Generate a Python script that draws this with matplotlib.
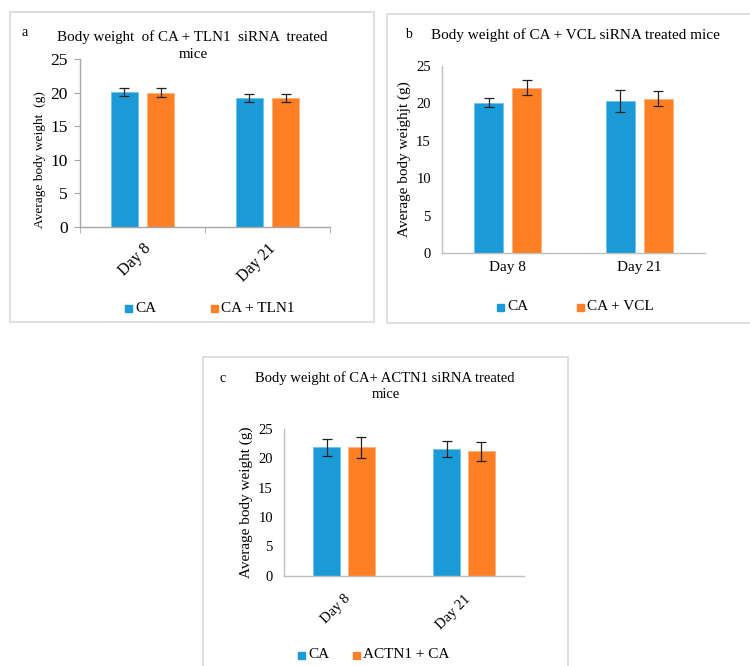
import matplotlib
matplotlib.use("Agg")
import matplotlib.pyplot as plt
from matplotlib.patches import Rectangle
import numpy as np

plt.rcParams['font.family'] = ['Liberation Serif', 'DejaVu Serif']

days = ["Day 8", "Day 21"]

# Panel a
a_ca = [20.1, 19.25]
a_ca_err = [0.6, 0.6]
a_tln = [20.0, 19.2]
a_tln_err = [0.65, 0.55]

# Panel b
b_ca = [20.1, 20.3]
b_ca_err = [0.6, 1.45]
b_vcl = [22.1, 20.6]
b_vcl_err = [1.0, 1.0]

# Panel c
c_ca = [21.9, 21.6]
c_ca_err = [1.45, 1.4]
c_actn = [21.9, 21.2]
c_actn_err = [1.8, 1.65]

BLUE = "#1a9bd7"
ORANGE = "#ff7f24"
AXC = "#bfbfbf"

W, H = 750, 666
fig = plt.figure(figsize=(7.5, 6.66), dpi=100)

def fx(x):
    return x / W

def fy(y):
    return 1 - y / H

def box(x0, y0, x1, y1):
    fig.patches.append(Rectangle((fx(x0), fy(y1)), fx(x1) - fx(x0), fy(y0) - fy(y1),
                                 transform=fig.transFigure, fill=False,
                                 edgecolor="#d9d9d9", linewidth=1.2))

def panel(rect, s1, s2, e1, e2, tick_fs, ylabel, ylabel_fs, rot, xfs, yticks_marks, xpad):
    l, t, r, b = rect
    ax = fig.add_axes([fx(l), fy(b), fx(r) - fx(l), fy(t) - fy(b)])
    x = np.arange(len(days))
    w = 0.22
    off = 0.145
    ax.bar(x - off, s1, w, color=BLUE, edgecolor="#6ec3ea", linewidth=0.6, zorder=2)
    ax.bar(x + off, s2, w, color=ORANGE, edgecolor="#ffb07a", linewidth=0.6, zorder=2)
    ax.errorbar(x - off, s1, yerr=e1, fmt="none", ecolor="#222222", elinewidth=0.9, capsize=3.5, capthick=0.9, zorder=3)
    ax.errorbar(x + off, s2, yerr=e2, fmt="none", ecolor="#222222", elinewidth=0.9, capsize=3.5, capthick=0.9, zorder=3)
    ax.set_xlim(-0.5, 1.5)
    ax.set_ylim(0, 25)
    ax.set_yticks([0, 5, 10, 15, 20, 25])
    for sp in ["top", "right"]:
        ax.spines[sp].set_visible(False)
    for sp in ["left", "bottom"]:
        ax.spines[sp].set_color(AXC if not yticks_marks else "#a6a6a6")
        ax.spines[sp].set_linewidth(1.0)
    ax.set_xticks(x)
    if rot:
        ax.set_xticklabels(days, rotation=45, ha="right", rotation_mode="anchor", fontsize=xfs)
    else:
        ax.set_xticklabels(days, fontsize=xfs)
    ax.tick_params(axis="x", length=0, pad=xpad)
    if yticks_marks:
        ax.tick_params(axis="y", length=4, color="#a6a6a6", labelsize=tick_fs, pad=5)
        ax.set_xticks([-0.5, 0.5, 1.5], minor=True)
        ax.tick_params(axis="x", which="minor", length=4, color="#a6a6a6")
    else:
        ax.tick_params(axis="y", length=0, labelsize=tick_fs, pad=8)
    ax.set_ylabel(ylabel, fontsize=ylabel_fs, labelpad=4)
    return ax

# Panel borders
box(10, 12, 374, 322)
box(387, 14, 760, 323)
box(203, 357, 568, 680)

# Panel a
axa = panel((80, 59, 330, 227), a_ca, a_tln, a_ca_err, a_tln_err, 12.5,
            "Average body weight  (g)", 9.6, True, 11.5, True, 10)
axa.yaxis.set_label_coords(-0.135, 0.40)
fig.text(fx(25), fy(32), "a", fontsize=10, ha="center", va="center")
fig.text(fx(192), fy(37), "Body weight  of CA + TLN1  siRNA  treated", fontsize=10.8, ha="center", va="center")
fig.text(fx(193), fy(54), "mice", fontsize=10.8, ha="center", va="center")
for xx, lab, col in [(125, "CA", BLUE), (211, "CA + TLN1", ORANGE)]:
    fig.patches.append(Rectangle((fx(xx), fy(312)), fx(7), 7 / H, transform=fig.transFigure, color=col))
    fig.text(fx(xx + 10), fy(308), lab, fontsize=11, ha="left", va="center")

# Panel b
axb = panel((442, 66, 705, 253), b_ca, b_vcl, b_ca_err, b_vcl_err, 10.5,
            "Average body weighjt (g)", 11, False, 11, False, 6)
fig.text(fx(408), fy(35), "b", fontsize=10, ha="center", va="center")
fig.text(fx(575), fy(35), "Body weight of CA + VCL siRNA treated mice", fontsize=11, ha="center", va="center")
for xx, lab, col in [(497, "CA", BLUE), (577, "CA + VCL", ORANGE)]:
    fig.patches.append(Rectangle((fx(xx), fy(311)), fx(7), 7 / H, transform=fig.transFigure, color=col))
    fig.text(fx(xx + 10), fy(307), lab, fontsize=11, ha="left", va="center")

# Panel c
axc = panel((284, 429, 524, 575.7), c_ca, c_actn, c_ca_err, c_actn_err, 10.5,
            "Average body weight (g)", 11, True, 10.5, False, 12)
fig.text(fx(223), fy(378), "c", fontsize=10, ha="center", va="center")
fig.text(fx(385), fy(378), "Body weight of CA+ ACTN1 siRNA treated", fontsize=10.5, ha="center", va="center")
fig.text(fx(386), fy(395), "mice", fontsize=10.5, ha="center", va="center")
for xx, lab, col in [(298, "CA", BLUE), (353, "ACTN1 + CA", ORANGE)]:
    fig.patches.append(Rectangle((fx(xx), fy(659)), fx(7), 7 / H, transform=fig.transFigure, color=col))
    fig.text(fx(xx + 10), fy(655), lab, fontsize=11, ha="left", va="center")

fig.savefig("out.png", dpi=100, facecolor="white")
